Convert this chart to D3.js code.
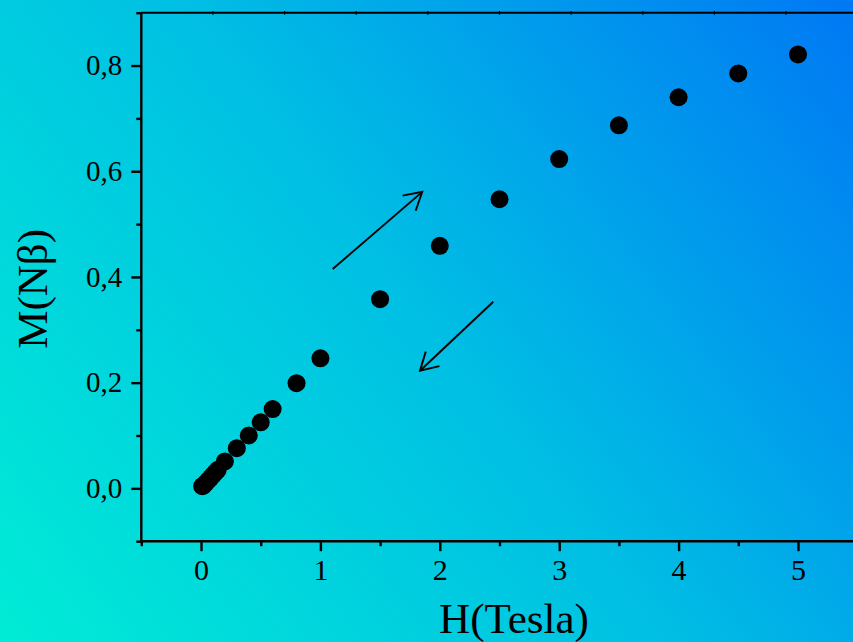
<!DOCTYPE html>
<html><head><meta charset="utf-8">
<script src="https://cdn.jsdelivr.net/npm/d3@7/dist/d3.min.js"></script>
<style>html,body{margin:0;padding:0;overflow:hidden;background:#00c0e0}</style>
</head><body><svg id="c" width="853" height="642"></svg>
<script>
const fieldH = [0.01,0.02,0.04,0.06,0.08,0.10,0.12,0.14,0.2,0.3,0.4,0.5,0.6,0.8,1.0,1.5,2.0,2.5,3.0,3.5,4.0,4.5,5.0];
const magM   = [0.004,0.005,0.010,0.015,0.020,0.025,0.030,0.035,0.051,0.076,0.100,0.125,0.150,0.199,0.246,0.358,0.459,0.547,0.623,0.687,0.740,0.785,0.821];
const xTicks = [0,1,2,3,4,5];
const xMinor = [-0.5,0.5,1.5,2.5,3.5,4.5,5.5];
const yTicks = [0,0.2,0.4,0.6,0.8];
const yMinor = [-0.1,0.1,0.3,0.5,0.7,0.9];
const topTicks = [0.1,0.7,1.3,1.9,2.5,3.1,3.7,4.3,4.9];
const arrows = [
  {x1:1.103,y1:0.415,x2:1.853,y2:0.561},
  {x1:2.448,y1:0.353,x2:1.834,y2:0.2225}
];
const xLabel = "H(Tesla)", yLabel = "M(Nβ)";
const fmt = d => d3.format(".1f")(d).replace(".", ",");

const svg = d3.select("#c");
const W = 853, H = 642;
const defs = svg.append("defs");
const g = defs.append("linearGradient").attr("id","bg")
  .attr("gradientUnits","userSpaceOnUse").attr("x1",0).attr("y1",H).attr("x2",W).attr("y2",0);
g.append("stop").attr("offset","0%").attr("stop-color","#00ecd6");
g.append("stop").attr("offset","50%").attr("stop-color","#00bfe4");
g.append("stop").attr("offset","100%").attr("stop-color","#0078f4");
svg.append("rect").attr("width",W).attr("height",H).attr("fill","url(#bg)");

const x = d3.scaleLinear().domain([-0.5,5.5]).range([141.3,857.7]);
const y = d3.scaleLinear().domain([-0.1,0.9]).range([541.2,12.7]);
const font = "'Liberation Serif','Times New Roman',serif";

// frame
const frame = svg.append("g").attr("stroke","#000").attr("fill","none");
frame.append("line").attr("x1",x(-0.5)).attr("x2",x(-0.5)).attr("y1",y(-0.1)).attr("y2",y(0.9)).attr("stroke-width",2.4);
frame.append("line").attr("x1",x(-0.5)).attr("x2",x(5.5)).attr("y1",y(-0.1)).attr("y2",y(-0.1)).attr("stroke-width",2.4);
frame.append("line").attr("x1",x(-0.5)).attr("x2",x(5.5)).attr("y1",y(0.9)).attr("y2",y(0.9)).attr("stroke-width",2);

// bottom axis
const xa = svg.append("g").attr("transform",`translate(0,${y(-0.1)})`)
  .call(d3.axisBottom(x).tickValues(xTicks).tickSize(10).tickPadding(8).tickFormat(d3.format("d")));
xa.select(".domain").remove();
xa.selectAll("line").attr("stroke","#000").attr("stroke-width",2.4);
xa.selectAll("text").attr("font-family",font).attr("font-size",30).attr("fill","#000");
svg.append("g").attr("transform",`translate(0,${y(-0.1)})`)
  .call(d3.axisBottom(x).tickValues(xMinor).tickSize(5).tickFormat(""))
  .call(s=>{s.select(".domain").remove();s.selectAll("line").attr("stroke","#000").attr("stroke-width",2.4);});

// left axis
const ya = svg.append("g").attr("transform",`translate(${x(-0.5)},0)`)
  .call(d3.axisLeft(y).tickValues(yTicks).tickSize(10).tickPadding(9).tickFormat(fmt));
ya.select(".domain").remove();
ya.selectAll("line").attr("stroke","#000").attr("stroke-width",2.4);
ya.selectAll("text").attr("font-family",font).attr("font-size",29).attr("fill","#000");
svg.append("g").attr("transform",`translate(${x(-0.5)},0)`)
  .call(d3.axisLeft(y).tickValues(yMinor).tickSize(5).tickFormat(""))
  .call(s=>{s.select(".domain").remove();s.selectAll("line").attr("stroke","#000").attr("stroke-width",2.4);});

// top tiny ticks
svg.append("g").selectAll("line").data(topTicks).join("line")
  .attr("x1",d=>x(d)).attr("x2",d=>x(d)).attr("y1",y(0.9)-1.8).attr("y2",y(0.9)+2)
  .attr("stroke","#000").attr("stroke-width",1.2);

// points
svg.append("g").selectAll("circle").data(fieldH.map((h,i)=>[h,magM[i]])).join("circle")
  .attr("cx",d=>x(d[0])).attr("cy",d=>y(d[1])).attr("r",9).attr("fill","#000");

// arrows
const ag = svg.append("g").attr("stroke","#000").attr("stroke-width",1.9).attr("fill","none");
arrows.forEach(a=>{
  const X1=x(a.x1),Y1=y(a.y1),X2=x(a.x2),Y2=y(a.y2);
  ag.append("line").attr("x1",X1).attr("y1",Y1).attr("x2",X2).attr("y2",Y2);
  const ang = Math.atan2(Y1-Y2, X1-X2), L=20, sp=Math.PI/6;
  const p = [[X2+L*Math.cos(ang+sp),Y2+L*Math.sin(ang+sp)],[X2,Y2],[X2+L*Math.cos(ang-sp),Y2+L*Math.sin(ang-sp)]];
  ag.append("path").attr("d",d3.line()(p));
});

// titles
svg.append("text").attr("x",514).attr("y",633).attr("text-anchor","middle")
  .attr("font-family",font).attr("font-size",43).attr("fill","#000").text(xLabel);
svg.append("text").attr("transform",`translate(47,${y(0.4)+12}) rotate(-90)`).attr("text-anchor","middle")
  .attr("font-family",font).attr("font-size",43).attr("fill","#000").text(yLabel);
</script></body></html>
